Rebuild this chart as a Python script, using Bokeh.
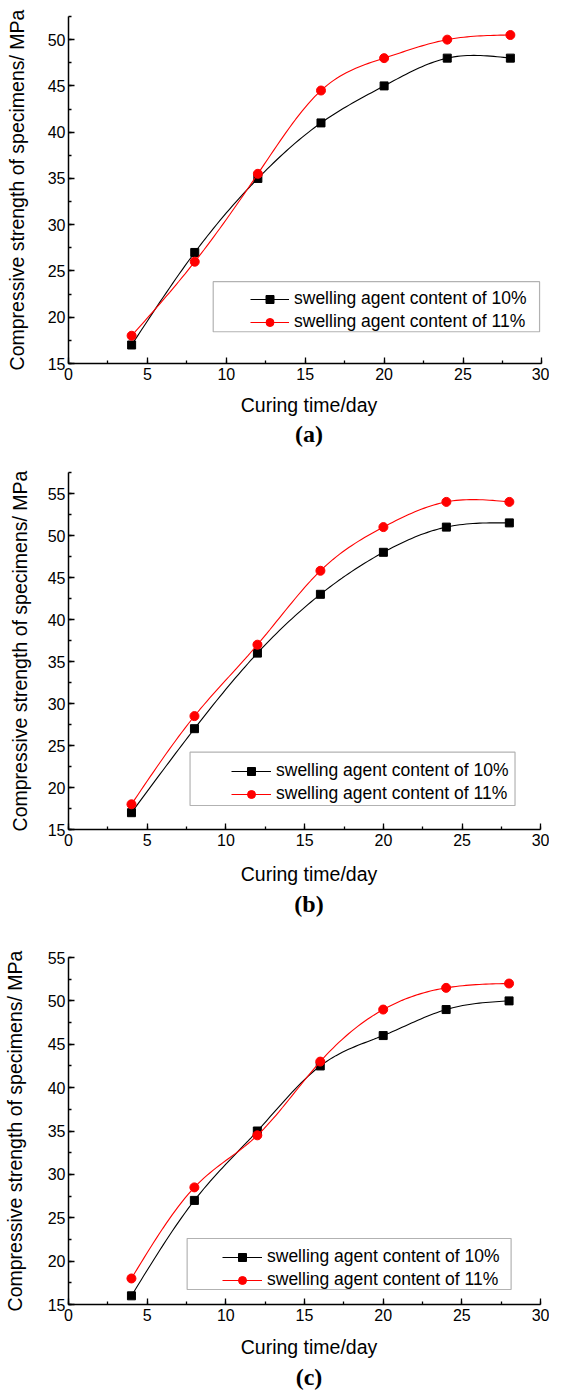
import numpy as np
from bokeh.plotting import figure
from bokeh.models import (Range1d, SingleIntervalTicker, Legend, LegendItem,
                          BoxAnnotation, Title, ColumnDataSource)
from bokeh.layouts import column
from bokeh.embed import file_html
from bokeh.resources import INLINE

# ---------------- data ----------------
days = [4, 8, 12, 16, 20, 24, 28]

a_10 = [17, 27, 35, 41, 45, 48, 48]
a_11 = [18, 26, 35.5, 44.5, 48, 50, 50.5]

b_10 = [17, 27, 36, 43, 48, 51, 51.5]
b_11 = [18, 28.5, 37, 45.8, 51, 54, 54]

c_10 = [16, 27, 35, 42.5, 46, 49, 50]
c_11 = [18, 28.5, 34.5, 43, 49, 51.5, 52]

series_labels = ["swelling agent content of 10%", "swelling agent content of 11%"]
panel_tags = ["(a)", "(b)", "(c)"]
x_label = "Curing time/day"
y_label = "Compressive strength of specimens/ MPa"

try:
    from bokeh.models import Spline
    HAS_SPLINE = True
except Exception:
    HAS_SPLINE = False

SANS = "Liberation Sans"


def smooth_path(xs, ys, n=20):
    """Natural cubic spline drawn through the points (rendering only)."""
    x = np.asarray(xs, float)
    y = np.asarray(ys, float)
    m = len(x)
    h = np.diff(x)
    A = np.zeros((m, m))
    r = np.zeros(m)
    A[0, 0] = A[-1, -1] = 1
    for i in range(1, m - 1):
        A[i, i - 1] = h[i - 1]
        A[i, i] = 2 * (h[i - 1] + h[i])
        A[i, i + 1] = h[i]
        r[i] = 6 * ((y[i + 1] - y[i]) / h[i] - (y[i] - y[i - 1]) / h[i - 1])
    M = np.linalg.solve(A, r)
    px, py = [], []
    for i in range(m - 1):
        t = np.linspace(x[i], x[i + 1], n, endpoint=(i == m - 2))
        a = (x[i + 1] - t) / h[i]
        b = (t - x[i]) / h[i]
        s = a * y[i] + b * y[i + 1] + ((a ** 3 - a) * M[i] + (b ** 3 - b) * M[i + 1]) * h[i] ** 2 / 6
        px.extend(t.tolist())
        py.extend(s.tolist())
    return px, py


def panel(tag, y10, y11, ymax, xend, fh, mbl, mbt, mbb,
          ylab_standoff, xlab_standoff, tag_standoff, leg_loc, glyph_w, box):
    p = figure(width=549, frame_height=fh, output_backend="svg",
               toolbar_location=None, title=None,
               x_range=Range1d(0, xend), y_range=Range1d(15, ymax),
               min_border_left=mbl, min_border_right=0,
               min_border_top=mbt, min_border_bottom=mbb)
    p.outline_line_color = None
    p.grid.visible = False
    p.background_fill_color = "white"
    p.border_fill_color = "white"

    p.xaxis.ticker = SingleIntervalTicker(interval=5, num_minor_ticks=2)
    p.yaxis.ticker = SingleIntervalTicker(interval=5, num_minor_ticks=2)
    p.xaxis.bounds = (0, 30)
    for ax in (p.xaxis[0], p.yaxis[0]):
        ax.axis_line_color = "black"
        ax.axis_line_width = 1.5
        ax.major_tick_in = 6
        ax.major_tick_out = 0
        ax.minor_tick_in = 3
        ax.minor_tick_out = 0
        ax.major_tick_line_color = "black"
        ax.minor_tick_line_color = "black"
        ax.major_tick_line_width = 1.3
        ax.minor_tick_line_width = 1.3
        ax.major_label_text_font = SANS
        ax.major_label_text_font_size = "16px"
        ax.major_label_text_color = "black"
        ax.axis_label_text_font = SANS
        ax.axis_label_text_font_style = "normal"
        ax.axis_label_text_color = "black"
    p.xaxis.axis_label = x_label
    p.xaxis.axis_label_text_font_size = "19.5px"
    p.xaxis.major_label_standoff = 4
    p.xaxis.axis_label_standoff = xlab_standoff
    p.yaxis.axis_label = y_label
    p.yaxis.axis_label_text_font_size = "19.5px"
    p.yaxis.major_label_standoff = 3
    p.yaxis.axis_label_standoff = ylab_standoff

    # legend frame
    p.add_layout(BoxAnnotation(left=box[0], right=box[1], bottom=box[2], top=box[3],
                               fill_color="white", fill_alpha=1,
                               line_color="black", line_width=1.2, level="underlay"))

    items = []
    for ys, col, marker, size, lab in ((y10, "black", "square", 8, series_labels[0]),
                                        (y11, "red", "circle", 9, series_labels[1])):
        if HAS_SPLINE:
            src = ColumnDataSource(dict(x=days, y=ys))
            lr = p.add_glyph(src, Spline(x="x", y="y", line_color=col, line_width=1.1))
        else:
            sx, sy = smooth_path(days, ys)
            lr = p.line(sx, sy, line_color=col, line_width=1.1)
        sr = p.scatter(days, ys, marker=marker, size=size, fill_color=col,
                       line_color=col)
        items.append(LegendItem(label=lab, renderers=[lr, sr]))

    leg = Legend(items=items, location=leg_loc, padding=0, margin=0,
                 spacing=2, glyph_width=glyph_w, glyph_height=20,
                 label_height=20, label_standoff=5,
                 label_text_font=SANS, label_text_font_size="17.5px",
                 label_text_color="black",
                 border_line_alpha=0, background_fill_alpha=0)
    p.add_layout(leg, "center")

    p.add_layout(Title(text=tag, align="center", text_font="Liberation Serif",
                       text_font_size="24px", text_font_style="bold",
                       text_color="black", standoff=tag_standoff), "below")
    return p


pa = panel(panel_tags[0], a_10, a_11, 52.5, 30.48, 347, 62, 16, 100, 17, 11, 0,
           (182, 31), 39, (9.17, 29.85, 18.43, 23.84))
pb = panel(panel_tags[1], b_10, b_11, 57.5, 30.55, 357, 58, 9, 110, 14, 14, 3,
           (163, 25), 40, (7.72, 28.36, 17.86, 24.21))
pc = panel(panel_tags[2], c_10, c_11, 55, 30.57, 347, 63, 18, 79, 19, 12, 3,
           (154, 14), 40, (7.54, 28.13, 16.73, 22.61))

layout = column(pa, pb, pc, spacing=0)
open("out.html", "w").write(file_html(layout, INLINE))
